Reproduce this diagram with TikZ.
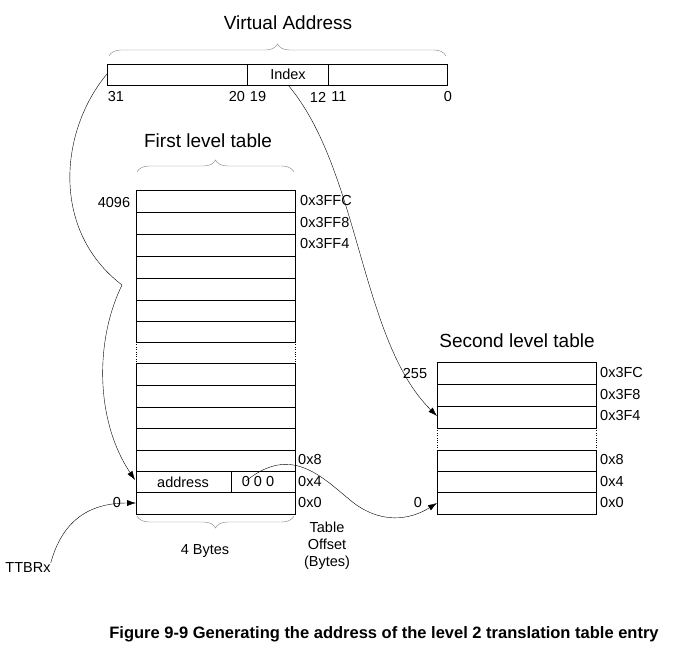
\documentclass[tikz,border=0pt]{standalone}
\usepackage{fontspec}
\setmainfont{Liberation Sans}
\usetikzlibrary{arrows.meta,decorations.pathreplacing}
\tikzset{
  cell/.style={draw,thin},
  lbl/.style={inner sep=0pt,font=\fontsize{14.5}{17}\selectfont},
  ttl/.style={inner sep=0pt,font=\fontsize{19}{22}\selectfont},
  brc/.style={draw=gray,decorate,decoration={brace,amplitude=12pt}},
  link/.style={draw,thin,-{Latex[length=9pt,width=6pt]}},
}
\begin{document}
\begin{tikzpicture}[x=1pt,y=-1pt]
    \useasboundingbox (0,0) rectangle (675,652);
    % virtual address
    \draw[cell] (107,64) rectangle (447,85);
    \draw[cell] (247,64) -- (247,85) (328,64) -- (328,85);
    \node[lbl] (idx) at (288,74) {Index};
    \coordinate (vaL) at (107,74);
    \coordinate (idxB) at (288,85);
    \foreach \x/\t in {116/31,237/20,258/19,318/12,339/11,448/0}
	\node[lbl] at (\x,97) {\t};
    \draw[brc] (109,56) -- (446,56);
    \node[ttl] (va) at (288,23) {Virtual Address};
    % first level table
    \node[ttl] (flt) at (208,141) {First level table};
    \draw[brc] (137,172) -- (294,172);
    \foreach \a/\b in {190/212,212/234,234/256,256/278,278/300,300/321,321/342,363/385,385/407,407/428,428/450,450/471,471/492,492/514}
	\draw[cell] (136,\a) rectangle (295,\b);
    \draw[dotted] (136,342) -- (136,363) (295,342) -- (295,363);
    \draw[cell] (231,471) -- (231,492);
    \node[lbl] (addr) at (183,482) {address};
    \node[lbl] (zeros) at (258,482) {0 0 0};
    \node[lbl] at (114,203) {4096};
    \node[lbl,anchor=west] at (300,201) {0x3FFC};
    \node[lbl,anchor=west] at (300,223) {0x3FF8};
    \node[lbl,anchor=west] at (300,244) {0x3FF4};
    \node[lbl,anchor=west] at (298,460) {0x8};
    \node[lbl,anchor=west] at (298,482) {0x4};
    \node[lbl,anchor=west] at (298,503) {0x0};
    \node[lbl] (z1) at (117,503) {0};
    \draw[brc] (294,516) -- (137,516);
    \node[lbl] at (205,551) {4 Bytes};
    \node[lbl,align=center] at (327,546) {Table\\Offset\\(Bytes)};
    \node[lbl] (ttbr) at (28,568) {TTBRx};
    % second level table
    \node[ttl] (slt) at (517,341) {Second level table};
    \foreach \a/\b in {362/384,384/406,406/428,450/471,471/492,492/514}
	\draw[cell] (437,\a) rectangle (596,\b);
    \draw[dotted] (437,428) -- (437,450) (596,428) -- (596,450);
    \node[lbl] at (415,374) {255};
    \node[lbl] (z2) at (418,503) {0};
    \node[lbl,anchor=west] at (600,373) {0x3FC};
    \node[lbl,anchor=west] at (600,395) {0x3F8};
    \node[lbl,anchor=west] at (600,416) {0x3F4};
    \node[lbl,anchor=west] at (600,460) {0x8};
    \node[lbl,anchor=west] at (600,482) {0x4};
    \node[lbl,anchor=west] at (600,503) {0x0};
    \coordinate (knee) at (122,285);
    % arrows
    \draw[thin] (vaL) .. controls (60,130) and (50,230) .. (knee);
    \draw[link] (knee) .. controls (95,340) and (95,420) .. (135,480);
    \draw[link] (ttbr.north east) .. controls (60,530) and (80,503) .. (136,503);
    \draw[link] (idxB) .. controls (360,170) and (360,340) .. (437,416);
    \draw[link] (246,481) .. controls (290,445) and (320,475) .. (350,500)
	.. controls (380,525) and (410,520) .. (437,503);
    \node[font=\bfseries\fontsize{16.5}{19}\selectfont] (cap) at (384,634)
	{Figure 9-9 Generating the address of the level 2 translation table entry};
\end{tikzpicture}
\end{document}
